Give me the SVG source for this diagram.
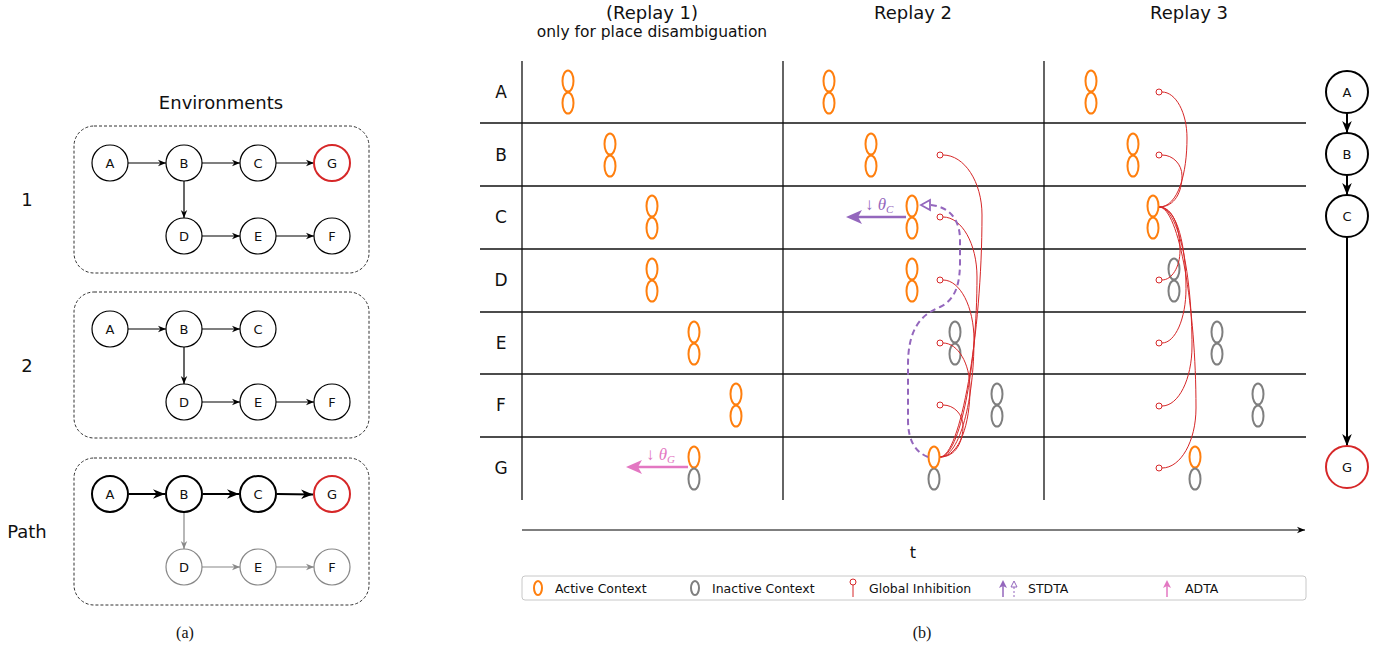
<svg xmlns="http://www.w3.org/2000/svg" xmlns:xlink="http://www.w3.org/1999/xlink" width="1390" height="650" viewBox="0 0 1390 650">
<style>
text{font-family:"DejaVu Sans","Liberation Sans",sans-serif;fill:#111}
.nd{fill:#fff;stroke:#000;stroke-width:1.2}
.ndb{fill:#fff;stroke:#000;stroke-width:2}
.ndg{fill:#fff;stroke:#888;stroke-width:1.2}
.ndr{fill:#fff;stroke:#d62728;stroke-width:2}
.nl{font-size:13px;text-anchor:middle}
.box{fill:none;stroke:#333;stroke-width:1;stroke-dasharray:3 2}
.ed{stroke:#000;stroke-width:1.2;fill:none;marker-end:url(#ah)}
.edb{stroke:#000;stroke-width:2;fill:none;marker-end:url(#ahb)}
.edg{stroke:#888;stroke-width:1.2;fill:none;marker-end:url(#ahg)}
.grid{stroke:#111;stroke-width:1.3}
.act{fill:none;stroke:#ff7f0e;stroke-width:2}
.ina{fill:none;stroke:#7f7f7f;stroke-width:2}
.inh{fill:none;stroke:#d62728;stroke-width:1}
.pin{fill:#fff;stroke:#d62728;stroke-width:1}
.rl{font-size:17px;text-anchor:middle}
.tt{font-size:18px;text-anchor:middle}
.lg{font-size:12.5px}
.math{font-family:"Liberation Serif","DejaVu Serif",serif;font-size:17px}
</style>
<defs>
<marker id="ah" viewBox="0 0 10 10" refX="10" refY="5" markerWidth="8" markerHeight="8" markerUnits="userSpaceOnUse" orient="auto"><path d="M0,1 L10,5 L0,9 L3,5 z" fill="#000"/></marker>
<marker id="ahb" viewBox="0 0 10 10" refX="10" refY="5" markerWidth="12" markerHeight="12" markerUnits="userSpaceOnUse" orient="auto"><path d="M0,1 L10,5 L0,9 L3,5 z" fill="#000"/></marker>
<marker id="ahg" viewBox="0 0 10 10" refX="10" refY="5" markerWidth="8" markerHeight="8" markerUnits="userSpaceOnUse" orient="auto"><path d="M0,1 L10,5 L0,9 L3,5 z" fill="#888"/></marker>
<g id="pair"><ellipse cx="0" cy="-11" rx="5.5" ry="10.5"/><ellipse cx="0" cy="11" rx="5.5" ry="10.5"/></g>
</defs>

<!-- Panel (a) -->
<text x="221" y="109" class="tt">Environments</text>
<text x="27" y="206" class="tt">1</text>
<text x="27" y="372" class="tt">2</text>
<text x="27" y="538" class="tt">Path</text>
<text x="185" y="638" style="font-family:'Liberation Serif',serif;font-size:16px;text-anchor:middle">(a)</text>

<g id="env1">
<rect x="74" y="126" width="295" height="147" rx="20" class="box"/>
<g id="e1-conn">
<line x1="128" y1="163" x2="166" y2="163" class="ed"/>
<line x1="202" y1="163" x2="240" y2="163" class="ed"/>
<line x1="276" y1="163" x2="314" y2="163" class="ed"/>
<line x1="184" y1="181" x2="184" y2="218" class="ed"/>
<line x1="202" y1="236" x2="240" y2="236" class="ed"/>
<line x1="276" y1="236" x2="314" y2="236" class="ed"/>
</g>
<g id="e1-A"><circle cx="110" cy="163" r="18" class="nd"/><text x="110" y="167.5" class="nl">A</text></g>
<g id="e1-B"><circle cx="184" cy="163" r="18" class="nd"/><text x="184" y="167.5" class="nl">B</text></g>
<g id="e1-C"><circle cx="258" cy="163" r="18" class="nd"/><text x="258" y="167.5" class="nl">C</text></g>
<g id="e1-G"><circle cx="332" cy="163" r="18" class="ndr"/><text x="332" y="167.5" class="nl">G</text></g>
<g id="e1-D"><circle cx="184" cy="236" r="18" class="nd"/><text x="184" y="240.5" class="nl">D</text></g>
<g id="e1-E"><circle cx="258" cy="236" r="18" class="nd"/><text x="258" y="240.5" class="nl">E</text></g>
<g id="e1-F"><circle cx="332" cy="236" r="18" class="nd"/><text x="332" y="240.5" class="nl">F</text></g>
</g>

<g id="env2">
<rect x="74" y="292" width="295" height="146" rx="20" class="box"/>
<g id="e2-conn">
<line x1="128" y1="329" x2="166" y2="329" class="ed"/>
<line x1="202" y1="329" x2="240" y2="329" class="ed"/>
<line x1="184" y1="347" x2="184" y2="384" class="ed"/>
<line x1="202" y1="402" x2="240" y2="402" class="ed"/>
<line x1="276" y1="402" x2="314" y2="402" class="ed"/>
</g>
<g id="e2-A"><circle cx="110" cy="329" r="18" class="nd"/><text x="110" y="333.5" class="nl">A</text></g>
<g id="e2-B"><circle cx="184" cy="329" r="18" class="nd"/><text x="184" y="333.5" class="nl">B</text></g>
<g id="e2-C"><circle cx="258" cy="329" r="18" class="nd"/><text x="258" y="333.5" class="nl">C</text></g>
<g id="e2-D"><circle cx="184" cy="402" r="18" class="nd"/><text x="184" y="406.5" class="nl">D</text></g>
<g id="e2-E"><circle cx="258" cy="402" r="18" class="nd"/><text x="258" y="406.5" class="nl">E</text></g>
<g id="e2-F"><circle cx="332" cy="402" r="18" class="nd"/><text x="332" y="406.5" class="nl">F</text></g>
</g>

<g id="envpath">
<rect x="74" y="458" width="295" height="147" rx="20" class="box"/>
<g id="ep-conn">
<line x1="129" y1="494" x2="165" y2="494" class="edb"/>
<line x1="203" y1="494" x2="239" y2="494" class="edb"/>
<path d="M277,494 L313,494.5" class="edb"/>
<line x1="184" y1="513" x2="184" y2="549" class="edg"/>
<line x1="202" y1="567" x2="240" y2="567" class="edg"/>
<line x1="276" y1="567" x2="314" y2="567" class="edg"/>
</g>
<g id="ep-A"><circle cx="110" cy="494" r="18" class="ndb"/><text x="110" y="498.5" class="nl">A</text></g>
<g id="ep-B"><circle cx="184" cy="494" r="18" class="ndb"/><text x="184" y="498.5" class="nl">B</text></g>
<g id="ep-C"><circle cx="258" cy="494" r="18" class="ndb"/><text x="258" y="498.5" class="nl">C</text></g>
<g id="ep-G"><circle cx="332" cy="494" r="18" class="ndr"/><text x="332" y="498.5" class="nl">G</text></g>
<g id="ep-D"><circle cx="184" cy="567" r="18" class="ndg"/><text x="184" y="571.5" class="nl">D</text></g>
<g id="ep-E"><circle cx="258" cy="567" r="18" class="ndg"/><text x="258" y="571.5" class="nl">E</text></g>
<g id="ep-F"><circle cx="332" cy="567" r="18" class="ndg"/><text x="332" y="571.5" class="nl">F</text></g>
</g>

<!-- Panel (b) -->
<text x="652" y="19" class="tt">(Replay 1)</text>
<text x="652" y="37" style="font-size:15.5px;text-anchor:middle">only for place disambiguation</text>
<text x="913" y="19" class="tt">Replay 2</text>
<text x="1189" y="19" class="tt">Replay 3</text>

<g id="grid">
<line x1="522" y1="61" x2="522" y2="500" class="grid"/>
<line x1="783" y1="61" x2="783" y2="500" class="grid"/>
<line x1="1044" y1="61" x2="1044" y2="500" class="grid"/>
<line x1="480" y1="123" x2="1306" y2="123" class="grid"/>
<line x1="480" y1="186" x2="1306" y2="186" class="grid"/>
<line x1="480" y1="249" x2="1306" y2="249" class="grid"/>
<line x1="480" y1="312" x2="1306" y2="312" class="grid"/>
<line x1="480" y1="374" x2="1306" y2="374" class="grid"/>
<line x1="480" y1="437" x2="1306" y2="437" class="grid"/>
</g>
<g id="rowlabels">
<text x="501" y="98" class="rl">A</text>
<text x="501" y="161" class="rl">B</text>
<text x="501" y="223" class="rl">C</text>
<text x="501" y="286" class="rl">D</text>
<text x="501" y="349" class="rl">E</text>
<text x="501" y="411" class="rl">F</text>
<text x="501" y="474" class="rl">G</text>
</g>

<g id="replay1">
<use href="#pair" x="568" y="92" class="act"/>
<use href="#pair" x="610" y="155" class="act"/>
<use href="#pair" x="652" y="217" class="act"/>
<use href="#pair" x="652" y="280" class="act"/>
<use href="#pair" x="694" y="343" class="act"/>
<use href="#pair" x="736" y="405" class="act"/>
<ellipse cx="694" cy="457" rx="5.5" ry="10.5" class="act"/>
<ellipse cx="694" cy="479" rx="5.5" ry="10.5" class="ina"/>
<g id="adta-G">
<line x1="688" y1="467" x2="636" y2="467" stroke="#e377c2" stroke-width="2.5"/>
<polygon points="626,467 642,460 638,467 642,474" fill="#e377c2"/>
<text x="646" y="460" class="math" style="fill:#e377c2">↓ <tspan font-style="italic">θ</tspan><tspan font-style="italic" font-size="11" dy="3">G</tspan></text>
</g>
</g>

<g id="replay2">
<use href="#pair" x="829" y="92" class="act"/>
<use href="#pair" x="871" y="155" class="act"/>
<use href="#pair" x="912" y="217" class="act"/>
<use href="#pair" x="912" y="280" class="act"/>
<use href="#pair" x="955" y="343" class="ina"/>
<use href="#pair" x="997" y="405" class="ina"/>
<ellipse cx="934" cy="479" rx="5.5" ry="10.5" class="ina"/>
<g id="inh2">
<path d="M940,457 C960,457 982,336 982,215 C982,182 964.5,155 943,155" class="inh"/>
<path d="M940,457 C960,457 977,367 977,277 C977,244 961.8,217 943,217" class="inh"/>
<path d="M940,457 C960,457 974,398.5 974,340 C974,307 960.1,280 943,280" class="inh"/>
<path d="M940,457 C960,457 970,422.8 970,388.6 C970,363.4 957.9,343 943,343" class="inh"/>
<path d="M940,457 C956.1,457 963,441.4 963,425.8 C963,414.3 954,405 943,405" class="inh"/>
<circle cx="940" cy="155" r="3" class="pin"/>
<circle cx="940" cy="217" r="3" class="pin"/>
<circle cx="940" cy="280" r="3" class="pin"/>
<circle cx="940" cy="343" r="3" class="pin"/>
<circle cx="940" cy="405" r="3" class="pin"/>
</g>
<ellipse cx="934" cy="457" rx="5.5" ry="10.5" class="act"/>
<g id="stdta-C">
<path d="M928,457 C915,452 908,440 908,420 L908,365 C908,330 920,315 940,307 C955,300 960,285 960,262 L960,240 C960,220 950,207 931,205" fill="none" stroke="#9467bd" stroke-width="2" stroke-dasharray="6 4"/>
<polygon points="921,205 930,200 930,210" fill="#fff" stroke="#9467bd" stroke-width="1.8"/>
<line x1="906" y1="217" x2="856" y2="217" stroke="#9467bd" stroke-width="2.5"/>
<polygon points="846,217 862,210 858,217 862,224" fill="#9467bd"/>
<text x="865" y="210" class="math" style="fill:#9467bd">↓ <tspan font-style="italic">θ</tspan><tspan font-style="italic" font-size="11" dy="3">C</tspan></text>
</g>
</g>

<g id="replay3">
<use href="#pair" x="1091" y="92" class="act"/>
<use href="#pair" x="1133" y="155" class="act"/>
<use href="#pair" x="1174" y="280" class="ina"/>
<use href="#pair" x="1217" y="343" class="ina"/>
<use href="#pair" x="1258" y="405" class="ina"/>
<ellipse cx="1195" cy="457" rx="5.5" ry="10.5" class="act"/>
<ellipse cx="1195" cy="479" rx="5.5" ry="10.5" class="ina"/>
<g id="inh3">
<path d="M1159,207 C1178.6,207 1187,172.5 1187,138 C1187,112.6 1175.8,92 1162,92" class="inh"/>
<path d="M1159,207 C1175.1,207 1182,191.4 1182,175.8 C1182,164.3 1173,155 1162,155" class="inh"/>
<path d="M1159,207 C1173.7,207 1180,228.9 1180,250.8 C1180,266.9 1171.9,280 1162,280" class="inh"/>
<path d="M1159,207 C1177.9,207 1186,247.8 1186,288.6 C1186,318.6 1175.2,343 1162,343" class="inh"/>
<path d="M1159,207 C1179,207 1192,276.5 1192,346 C1192,379.1 1178.6,406 1162,406" class="inh"/>
<path d="M1159,207 C1179,207 1196,307.5 1196,408 C1196,441.1 1180.8,468 1162,468" class="inh"/>
<circle cx="1159" cy="92" r="3" class="pin"/>
<circle cx="1159" cy="155" r="3" class="pin"/>
<circle cx="1159" cy="280" r="3" class="pin"/>
<circle cx="1159" cy="343" r="3" class="pin"/>
<circle cx="1159" cy="406" r="3" class="pin"/>
<circle cx="1159" cy="468" r="3" class="pin"/>
</g>
<use href="#pair" x="1153" y="217" class="act"/>
</g>

<g id="timeaxis">
<line x1="522" y1="530" x2="1305" y2="530" stroke="#000" stroke-width="1.2" marker-end="url(#ah)"/>
<text x="913" y="558" style="font-size:16px;text-anchor:middle">t</text>
</g>

<g id="legend">
<rect x="522" y="576" width="784" height="24" rx="3" fill="#fff" stroke="#c8c8c8" stroke-width="1"/>
<ellipse cx="538" cy="588" rx="4" ry="7" class="act"/>
<text x="555" y="592.5" class="lg">Active Context</text>
<ellipse cx="695" cy="588" rx="4" ry="7" class="ina"/>
<text x="712" y="592.5" class="lg">Inactive Context</text>
<line x1="853" y1="585" x2="853" y2="597" stroke="#d62728" stroke-width="1"/>
<circle cx="853" cy="582" r="3" class="pin"/>
<text x="869" y="592.5" class="lg">Global Inhibition</text>
<line x1="1003" y1="597" x2="1003" y2="586" stroke="#9467bd" stroke-width="1.5"/>
<polygon points="1003,580 1007,588 1003,586 999,588" fill="#9467bd"/>
<line x1="1014" y1="597" x2="1014" y2="587" stroke="#9467bd" stroke-width="1" stroke-dasharray="2 2"/>
<polygon points="1014,581 1017,587 1011,587" fill="#fff" stroke="#9467bd" stroke-width="1"/>
<text x="1028" y="592.5" class="lg">STDTA</text>
<line x1="1167" y1="597" x2="1167" y2="586" stroke="#e377c2" stroke-width="1.5"/>
<polygon points="1167,580 1171,588 1167,586 1163,588" fill="#e377c2"/>
<text x="1185" y="592.5" class="lg">ADTA</text>
</g>
<text x="922" y="638" style="font-family:'Liberation Serif',serif;font-size:16px;text-anchor:middle">(b)</text>

<g id="pathcol">
<g id="pc-conn">
<line x1="1347" y1="113" x2="1347" y2="133" class="edb"/>
<line x1="1347" y1="175" x2="1347" y2="195" class="edb"/>
<line x1="1347" y1="237" x2="1347" y2="446" class="edb"/>
</g>
<g id="pc-A"><circle cx="1347" cy="92" r="21" class="ndb"/><text x="1347" y="96.5" class="nl">A</text></g>
<g id="pc-B"><circle cx="1347" cy="154" r="21" class="ndb"/><text x="1347" y="158.5" class="nl">B</text></g>
<g id="pc-C"><circle cx="1347" cy="216" r="21" class="ndb"/><text x="1347" y="220.5" class="nl">C</text></g>
<g id="pc-G"><circle cx="1347" cy="467" r="21" class="ndr"/><text x="1347" y="471.5" class="nl">G</text></g>
</g>
</svg>
